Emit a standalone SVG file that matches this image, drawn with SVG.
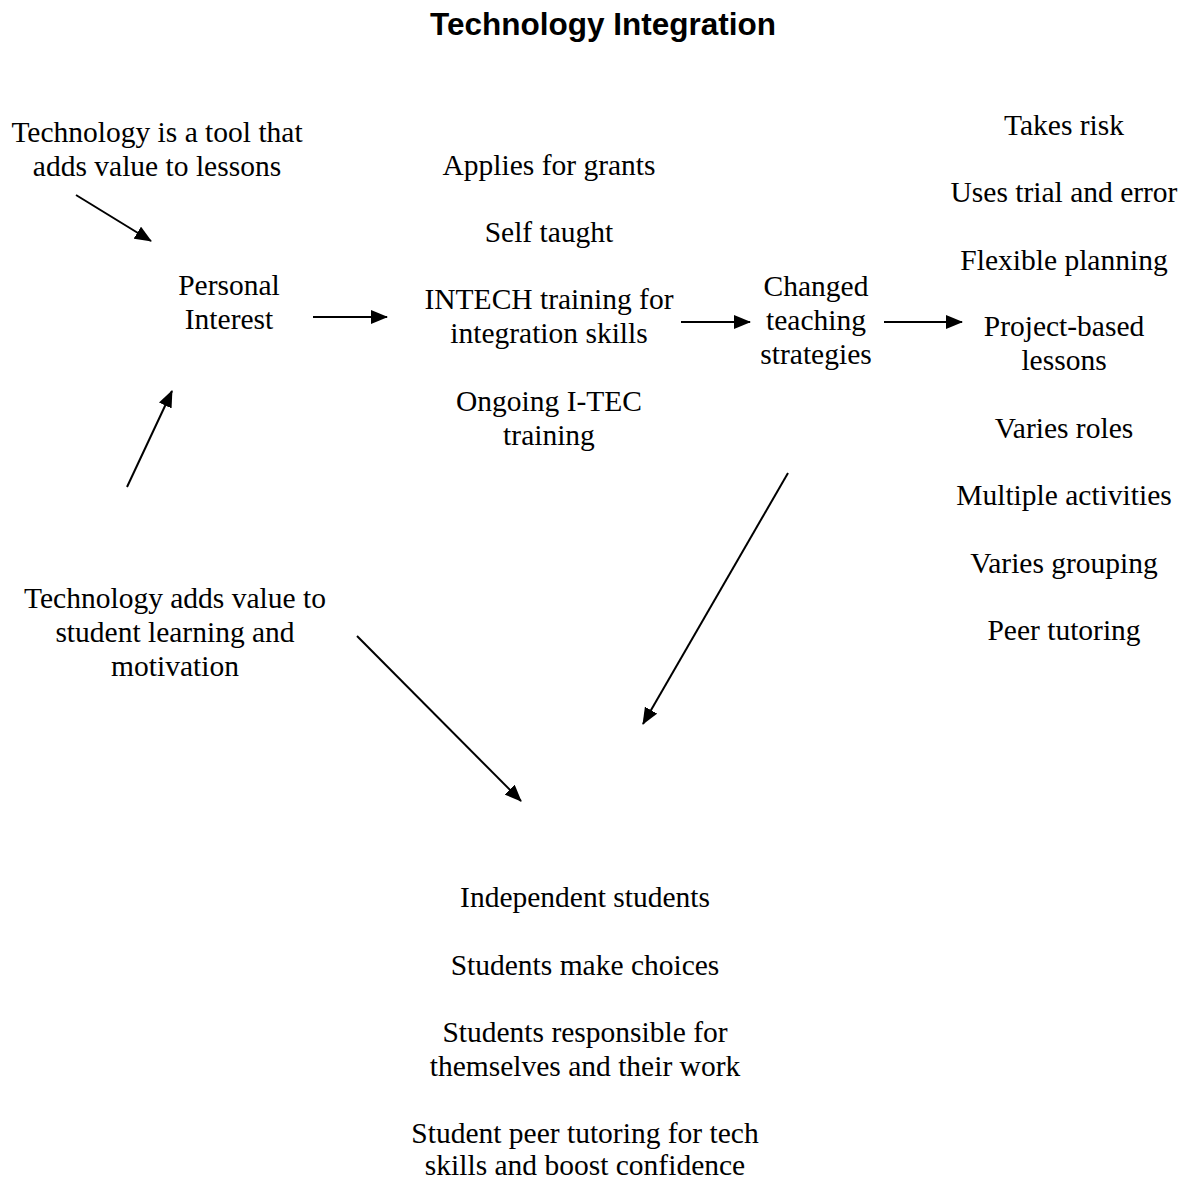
<svg xmlns="http://www.w3.org/2000/svg" width="1189" height="1182" viewBox="0 0 1189 1182">
<defs>
<marker id="ah" viewBox="0 0 17 14" refX="16" refY="7" markerWidth="17" markerHeight="14" orient="auto" markerUnits="userSpaceOnUse"><path d="M0,0 L17,7 L0,14 Z" fill="#000"/></marker>
<style>
.t{font-family:"Liberation Serif","Times New Roman",serif;font-size:29.5px;fill:#000;text-anchor:middle}
.h{font-family:"Liberation Sans",Arial,sans-serif;font-size:31.5px;font-weight:bold;fill:#000;text-anchor:middle}
.c{stroke:#000;stroke-width:2;fill:none;marker-end:url(#ah)}
</style>
</defs>
<rect width="1189" height="1182" fill="#fff"/>
<g transform="translate(0,2)">
<text class="h" x="603" y="33">Technology Integration</text>
<g id="tool"><text class="t" x="157" y="140">Technology is a tool that</text><text class="t" x="157" y="174">adds value to lessons</text></g>
<g id="personal"><text class="t" x="229" y="293">Personal</text><text class="t" x="229" y="327">Interest</text></g>
<g id="training">
<text class="t" x="549" y="173">Applies for grants</text>
<text class="t" x="549" y="240">Self taught</text>
<text class="t" x="549" y="307">INTECH training for</text>
<text class="t" x="549" y="341">integration skills</text>
<text class="t" x="549" y="409">Ongoing I-TEC</text>
<text class="t" x="549" y="443">training</text>
</g>
<g id="changed"><text class="t" x="816" y="294">Changed</text><text class="t" x="816" y="328">teaching</text><text class="t" x="816" y="362">strategies</text></g>
<g id="strategies">
<text class="t" x="1064" y="133">Takes risk</text>
<text class="t" x="1064" y="200">Uses trial and error</text>
<text class="t" x="1064" y="268">Flexible planning</text>
<text class="t" x="1064" y="334">Project-based</text>
<text class="t" x="1064" y="368">lessons</text>
<text class="t" x="1064" y="436">Varies roles</text>
<text class="t" x="1064" y="503">Multiple activities</text>
<text class="t" x="1064" y="571">Varies grouping</text>
<text class="t" x="1064" y="638">Peer tutoring</text>
</g>
<g id="student-value"><text class="t" x="175" y="606">Technology adds value to</text><text class="t" x="175" y="640">student learning and</text><text class="t" x="175" y="674">motivation</text></g>
</g>
<g id="outcomes">
<text class="t" x="585" y="907">Independent students</text>
<text class="t" x="585" y="975">Students make choices</text>
<text class="t" x="585" y="1042">Students responsible for</text>
<text class="t" x="585" y="1076">themselves and their work</text>
<text class="t" x="585" y="1143">Student peer tutoring for tech</text>
<text class="t" x="585" y="1175">skills and boost confidence</text>
</g>
<g id="connectors">
<line class="c" x1="76" y1="195" x2="151" y2="241"/>
<line class="c" x1="313" y1="317" x2="387" y2="317"/>
<line class="c" x1="681" y1="322" x2="750" y2="322"/>
<line class="c" x1="884" y1="322" x2="962" y2="322"/>
<line class="c" x1="127" y1="487" x2="172" y2="391"/>
<line class="c" x1="357" y1="636" x2="521" y2="801"/>
<line class="c" x1="788" y1="473" x2="643" y2="724"/>
</g>
</svg>
